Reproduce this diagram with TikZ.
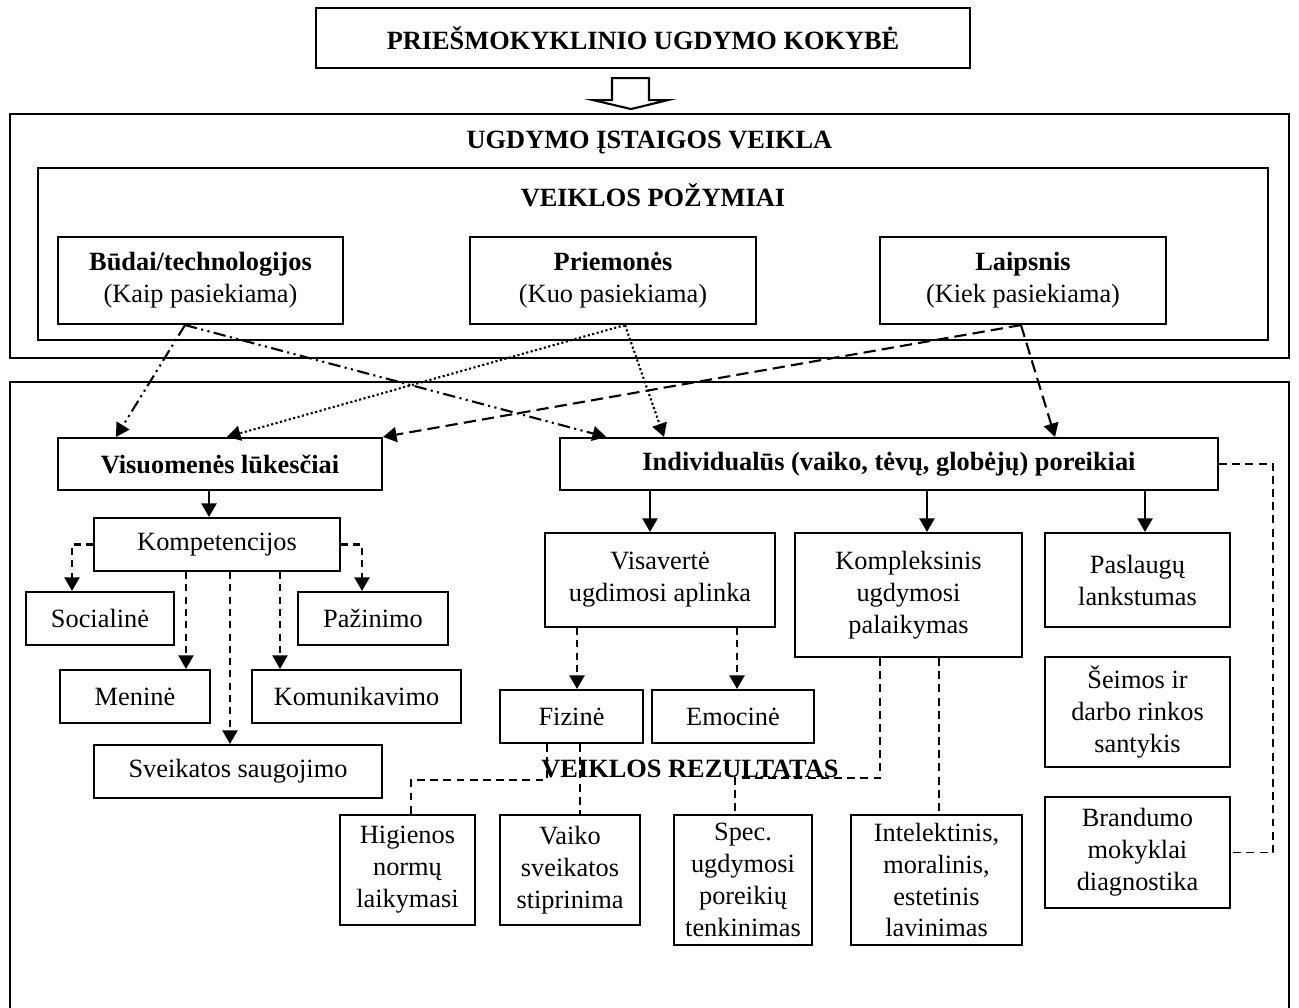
\documentclass[tikz,border=0pt]{standalone}
\usepackage{fontspec}
\setmainfont{Liberation Serif}
\usetikzlibrary{arrows.meta}

\tikzset{
  box/.style={draw, line width=1.2pt, align=center, inner sep=2pt, font=\fontsize{15}{18.2}\selectfont},
  sz/.style 2 args={minimum width=#1*0.02cm, minimum height=#2*0.02cm},
  hd/.style={font=\fontsize{15}{18.2}\selectfont\bfseries},
  arr/.style={-{Triangle[length=0.27cm, width=0.3cm]}},
  conn/.style={line width=1.2pt},
  dashdotarr/.style={conn, arr, dash pattern=on 7pt off 2.5pt on 1.2pt off 2.5pt on 1.2pt off 2.5pt},
  dotarr/.style={conn, arr, dash pattern=on 1.2pt off 1.4pt},
  dasharr/.style={conn, arr, dash pattern=on 7pt off 3.5pt},
  shortarr/.style={conn, arr, dash pattern=on 4pt off 3pt},
  solidarr/.style={conn, arr},
  thindash/.style={line width=0.8pt, dash pattern=on 4.5pt off 3pt},
}

\begin{document}
\begin{tikzpicture}[x=0.02cm, y=-0.02cm]
    \useasboundingbox (0,0) rectangle (1299,1008);

    % top
    \node[box, hd, sz={654}{60}] (kokybe) at (643,38) {PRIEŠMOKYKLINIO UGDYMO KOKYBĖ};
    \draw[conn] (kokybe.south) ++(-31,9) -- ++(37,0) -- ++(0,22) -- ++(19,0) -- ++(-37,9)
        -- ++(-38,-9) -- ++(19,0) -- cycle;

    % ugdymo istaigos veikla
    \node[box, sz={1279}{244}] (istaiga) at (649.5,236) {};
    \node[hd] (istaigaT) at (649.5,143) {UGDYMO ĮSTAIGOS VEIKLA};
    \node[box, sz={1230}{172}] (pozym) at (653,254) {};
    \node[hd] (pozymT) at (653,195) {VEIKLOS POŽYMIAI};
    \node[box, sz={285}{87}] (budai) at (200.5,280.5) {\textbf{Būdai/technologijos}\\(Kaip pasiekiama)};
    \node[box, sz={286}{87}] (priem) at (613,280.5) {\textbf{Priemonės}\\(Kuo pasiekiama)};
    \node[box, sz={286}{87}] (laips) at (1023,280.5) {\textbf{Laipsnis}\\(Kiek pasiekiama)};

    % veiklos rezultatas
    \draw[conn] (10,1008) -- (10,382) -- (1289,382) -- (1289,1008);
    \node[box, hd, sz={324}{52}] (vis) at (220,464) {Visuomenės lūkesčiai};
    \node[box, hd, sz={658}{52}] (indiv) at (889,464) {Individualūs (vaiko, tėvų, globėjų) poreikiai};

    \node[box, sz={246}{53}] (komp) at (217,544.5) {Kompetencijos};
    \node[box, sz={148}{53}] (soc) at (100,618.5) {Socialinė};
    \node[box, sz={150}{53}] (paz) at (373,618.5) {Pažinimo};
    \node[box, sz={150}{53}] (men) at (135,696.5) {Meninė};
    \node[box, sz={209}{53}] (komu) at (356.5,696.5) {Komunikavimo};
    \node[box, sz={288}{53}] (sveik) at (238,771.5) {Sveikatos saugojimo};

    \node[box, sz={230}{94}] (visav) at (660,580) {Visavertė\\ugdimosi aplinka};
    \node[box, sz={227}{124}] (kompl) at (908.5,595) {Kompleksinis\\ugdymosi\\palaikymas};
    \node[box, sz={185}{94}] (pasl) at (1137.5,580) {Paslaugų\\lankstumas};
    \node[box, sz={185}{110}] (seim) at (1137.5,712) {Šeimos ir\\darbo rinkos\\santykis};
    \node[box, sz={185}{111}] (brand) at (1137.5,852.5) {Brandumo\\mokyklai\\diagnostika};

    \node[box, sz={143}{53}] (fiz) at (571.5,716.5) {Fizinė};
    \node[box, sz={162}{53}] (emoc) at (733,716.5) {Emocinė};

    \node[box, sz={135}{110}] (hig) at (407.5,870) {Higienos\\normų\\laikymasi};
    \node[box, sz={140}{110}] (vaik) at (570,870) {Vaiko\\sveikatos\\stiprinima};
    \node[box, sz={138}{130}] (spec) at (743,880) {Spec.\\ugdymosi\\poreikių\\tenkinimas};
    \node[box, sz={171}{130}] (intel) at (936.5,880) {Intelektinis,\\moralinis,\\estetinis\\lavinimas};

    % pozymiai -> poreikiai
    \draw[dashdotarr] (budai.south -| 185,0) -- (vis.north -| 116,0);
    \draw[dashdotarr] (budai.south -| 185,0) -- (indiv.north -| 606,0);
    \draw[dotarr] (priem.south -| 625,0) -- (vis.north -| 227,0);
    \draw[dotarr] (priem.south -| 625,0) -- (indiv.north -| 664,0);
    \draw[dasharr] (laips.south -| 1021,0) -- (vis.north east);
    \draw[dasharr] (laips.south -| 1021,0) -- (indiv.north -| 1055,0);

    % kompetencijos
    \draw[solidarr] (vis.south -| 209,0) -- (komp.north -| 209,0);
    \draw[shortarr] (komp.west) -| (soc.north -| 72,0);
    \draw[shortarr] (komp.east) -| (paz.north -| 362,0);
    \draw[shortarr] (komp.south -| 186,0) -- (men.north -| 186,0);
    \draw[shortarr] (komp.south -| 230,0) -- (sveik.north -| 230,0);
    \draw[shortarr] (komp.south -| 280,0) -- (komu.north -| 280,0);

    % poreikiai
    \draw[solidarr] (indiv.south -| 650,0) -- (visav.north -| 650,0);
    \draw[solidarr] (indiv.south -| 927,0) -- (kompl.north -| 927,0);
    \draw[solidarr] (indiv.south -| 1145,0) -- (pasl.north -| 1145,0);
    \draw[shortarr] (visav.south -| 577,0) -- (fiz.north -| 577,0);
    \draw[shortarr] (visav.south -| 737,0) -- (emoc.north -| 737,0);

    \draw[thindash] (fiz.south -| 547,0) -- ++(0,36) -| (hig.north -| 411,0);
    \draw[thindash] (fiz.south -| 580,0) -- (vaik.north -| 580,0);
    \draw[thindash] (kompl.south -| 880,0) -- ++(0,120) -| (spec.north -| 735,0);
    \draw[thindash] (kompl.south -| 939,0) -- (intel.north -| 939,0);
    \draw[thindash] (indiv.east) -- ++(54,0) |- (brand.east);

    \node[hd] (rez) at (690,769) {VEIKLOS REZULTATAS};
\end{tikzpicture}
\end{document}
